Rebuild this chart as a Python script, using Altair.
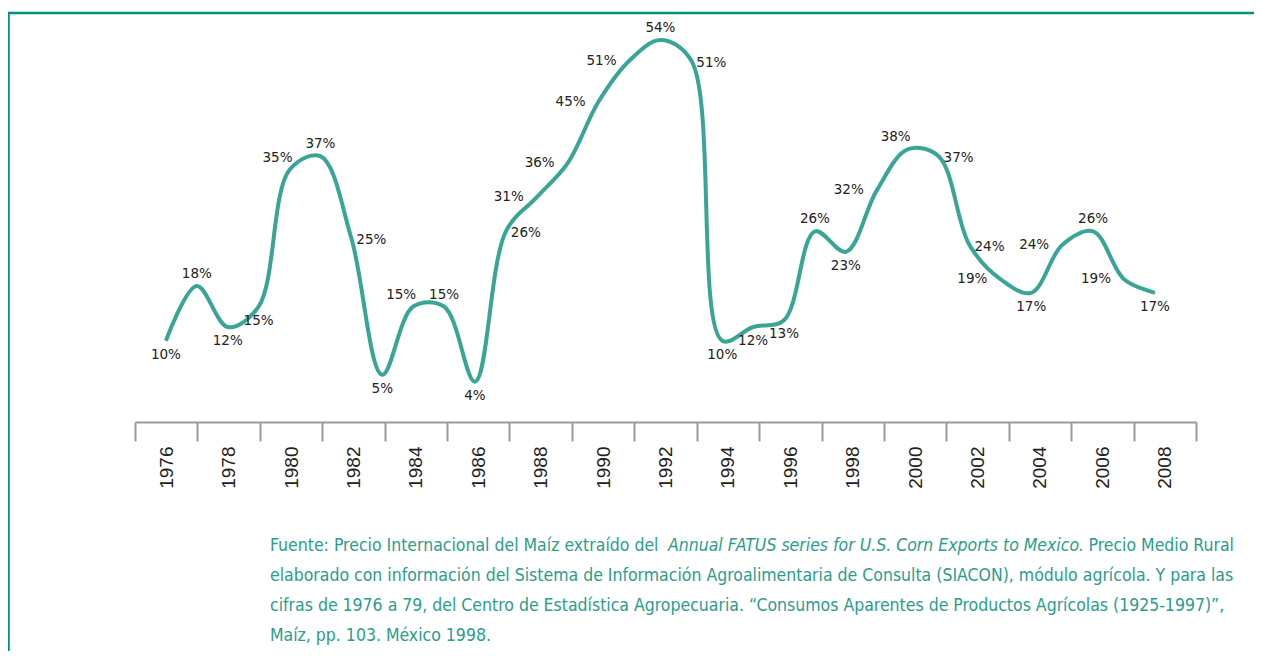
import altair as alt
import pandas as pd

# ---------------- data ----------------
YEARS = [1976, 1977, 1978, 1979, 1980, 1981, 1982, 1983, 1984, 1985, 1986,
         1987, 1988, 1989, 1990, 1991, 1992, 1993, 1994, 1995, 1996, 1997,
         1998, 1999, 2000, 2001, 2002, 2003, 2004, 2005, 2006, 2007, 2008]
VALUES = [10, 18, 12, 15, 35, 37, 25, 5, 15, 15, 4,
          26, 31, 36, 45, 51, 54, 51, 10, 12, 13, 26,
          23, 32, 38, 37, 24, 19, 17, 24, 26, 19, 17]
# where each value label sits relative to its point
LABEL_POS = ["s", "n", "s", "s", "nw", "n", "e", "s", "nw", "n", "s",
             "e", "w", "w", "w", "w", "n", "e", "s", "s", "s", "n",
             "s", "w", "nw", "e", "e", "w", "s", "w", "n", "w", "s"]
TICK_LABELS = ["1976", "1978", "1980", "1982", "1984", "1986", "1988", "1990",
               "1992", "1994", "1996", "1998", "2000", "2002", "2004", "2006", "2008"]

SOURCE_1A = "Fuente: Precio Internacional del Maíz extraído del"
SOURCE_1B = "Annual FATUS series for U.S. Corn Exports to Mexico."
SOURCE_1C = "Precio Medio Rural"
SOURCE_REST = [
    "elaborado con información del Sistema de Información Agroalimentaria de Consulta (SIACON), módulo agrícola. Y para las",
    "cifras de 1976 a 79, del Centro de Estadística Agropecuaria. “Consumos Aparentes de Productos Agrícolas (1925-1997)”,",
    "Maíz, pp. 103. México 1998.",
]

# ---------------- styles ----------------
LINE_COLOR = "#39a596"
FRAME_COLOR = "#00917c"
SOURCE_COLOR = "#2a9d8c"
AXIS_GRAY = "#9b9b9b"
W, H = 1061, 410

df = pd.DataFrame({"year": YEARS, "value": VALUES, "pos": LABEL_POS})
df["label"] = [f"{v}%" for v in VALUES]

xq = alt.X("year:Q", scale=alt.Scale(domain=[1975, 2009.33], nice=False, zero=False), axis=None)
yq = alt.Y("value:Q", scale=alt.Scale(domain=[-1.9, 58.1], nice=False, zero=False), axis=None)

line = alt.Chart(df).mark_line(
    interpolate="catmull-rom", color=LINE_COLOR, strokeWidth=4
).encode(x=xq, y=yq)

OFFS = {
    "n": (0, -12, "center"),
    "s": (0, 14, "center"),
    "e": (5, 2, "left"),
    "w": (-13, 0, "right"),
    "nw": (3, -12, "right"),
}
label_layers = [
    alt.Chart(df).transform_filter(alt.datum.pos == k).mark_text(
        dx=dx, dy=dy, align=a, baseline="middle",
        font="DejaVu Sans", fontSize=13.5, color="#222222"
    ).encode(x=xq, y=yq, text="label:N")
    for k, (dx, dy, a) in OFFS.items()
]

axis_df = pd.DataFrame({"tick": TICK_LABELS})
axis_layer = alt.Chart(axis_df).mark_bar(opacity=0).encode(
    x=alt.X("tick:O", sort=None,
            scale=alt.Scale(type="band", paddingInner=0, paddingOuter=0),
            axis=alt.Axis(title=None, tickBand="extent", labelAngle=270,
                          labelFont="Liberation Sans", labelFontSize=19,
                          labelColor="#222222", labelPadding=5,
                          domainColor=AXIS_GRAY, domainWidth=2,
                          tickColor=AXIS_GRAY, tickWidth=2, tickSize=19,
                          grid=False))
)

one = alt.Data(values=[{}])
frame_top = alt.Chart(one).mark_rule(color=FRAME_COLOR, strokeWidth=2.5).encode(
    x=alt.value(-127), x2=alt.value(1130), y=alt.value(1))
frame_left = alt.Chart(one).mark_rule(color=FRAME_COLOR, strokeWidth=2.5).encode(
    x=alt.value(-126.5), y=alt.value(0), y2=alt.value(660))

src_font = dict(font="DejaVu Sans Condensed", fontSize=17.5, color=SOURCE_COLOR,
                baseline="middle", fontWeight="normal")
src_1a = alt.Chart(one).mark_text(align="left", text=SOURCE_1A, **src_font).encode(
    x=alt.value(135), y=alt.value(534))
src_1b = alt.Chart(one).mark_text(align="left", text=SOURCE_1B, fontStyle="italic", **src_font).encode(
    x=alt.value(533), y=alt.value(534))
src_1c = alt.Chart(one).mark_text(align="right", text=SOURCE_1C, **src_font).encode(
    x=alt.value(1099), y=alt.value(534))
src_rest = [
    alt.Chart(one).mark_text(align="left", text=t, **src_font).encode(
        x=alt.value(135), y=alt.value(564 + 30 * i))
    for i, t in enumerate(SOURCE_REST)
]

chart = alt.layer(
    axis_layer, frame_top, frame_left, line, *label_layers,
    src_1a, src_1b, src_1c, *src_rest
).resolve_scale(x="independent").properties(
    width=W, height=H, background="white",
    autosize=alt.AutoSizeParams(type="none"),
    padding={"left": 127, "right": 58, "top": 4, "bottom": 229},
).configure_view(stroke="transparent", strokeWidth=0)

chart.save("out.html", embed_options={"renderer": "svg", "actions": False})
